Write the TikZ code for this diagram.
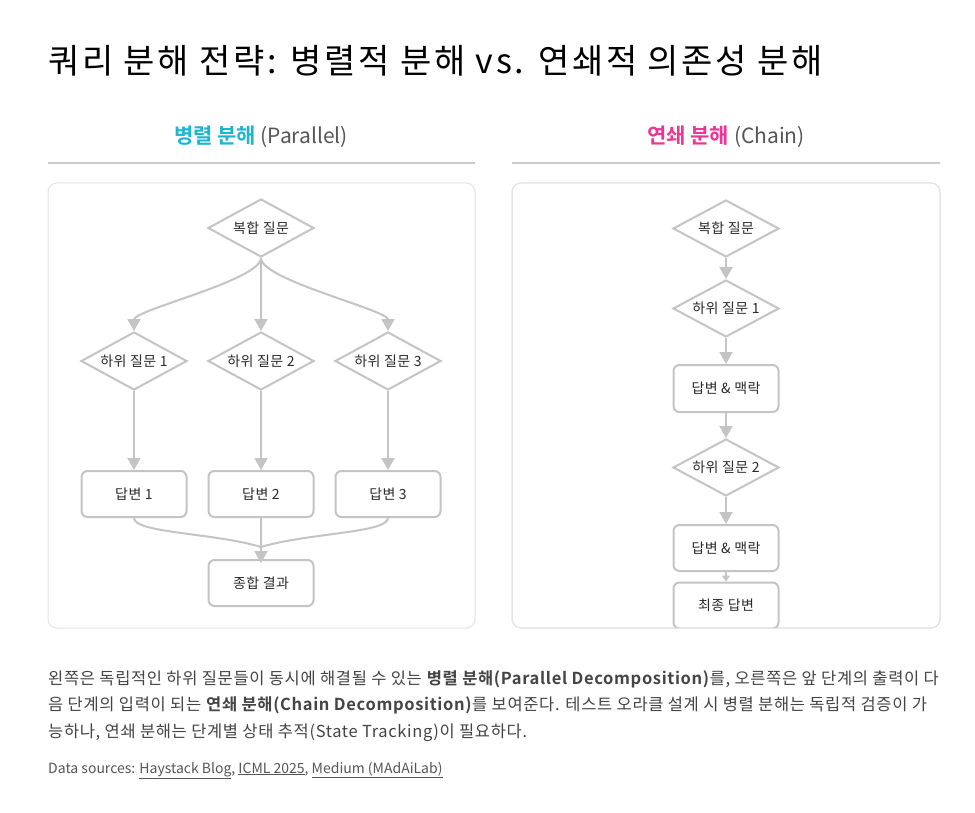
\documentclass[tikz,border=0pt]{standalone}
\usepackage{fontspec}
\setmainfont{Noto Sans CJK KR}[BoldFont={Noto Sans CJK KR Bold}]
\usetikzlibrary{shapes.geometric,arrows.meta}
\definecolor{edge}{HTML}{C4C4C4}
\definecolor{panelb}{HTML}{E3E3E3}
\definecolor{rule}{HTML}{CCCCCC}
\definecolor{txt}{HTML}{2A2A2A}
\definecolor{cap}{HTML}{444444}
\definecolor{cyanh}{HTML}{1BB5CF}
\definecolor{pinkh}{HTML}{EC3595}
\definecolor{subh}{HTML}{555555}
\newcommand{\nodefont}{\fontsize{14}{16}\selectfont\addfontfeatures{LetterSpace=3}}
\tikzset{
  qdia/.style={diamond, aspect=1.83, draw=edge, line width=2pt, fill=white, inner sep=0pt,
    minimum width=106pt, minimum height=58pt, font=\nodefont, text=txt},
  abox/.style={rectangle, rounded corners=6pt, draw=edge, line width=2pt, fill=white,
    minimum width=105pt, minimum height=46pt, font=\nodefont, text=txt},
  conn/.style={draw=edge, line width=2pt, -{Triangle[width=13pt,length=12pt]}},
  connp/.style={draw=edge, line width=2pt},
  panel/.style={draw=panelb, line width=1pt, rounded corners=9pt, fill=white},
  captxt/.style={anchor=base west, inner sep=0pt, text=cap, font=\fontsize{16.5}{19}\selectfont\addfontfeatures{LetterSpace=4}},
}
\begin{document}
\begin{tikzpicture}[x=1pt,y=-1pt]
\useasboundingbox (0,0) rectangle (975,813);
\fill[white] (0,0) rectangle (975,813);
% title
\node[anchor=base west, inner sep=0pt, text=black, font=\fontsize{34}{38}\selectfont\addfontfeatures{LetterSpace=8}] (title) at (48,74) {쿼리 분해 전략: 병렬적 분해 vs. 연쇄적 의존성 분해};
% headers
\node[font=\fontsize{21}{25}\selectfont, text=subh] (hl) at (261,137) {{\bfseries\color{cyanh}병렬 분해} (Parallel)};
\node[font=\fontsize{21}{25}\selectfont, text=subh] (hr) at (726,137) {{\bfseries\color{pinkh}연쇄 분해} (Chain)};
\draw[rule, line width=1.5pt] (48,163) -- (475,163);
\draw[rule, line width=1.5pt] (512,163) -- (940,163);
% panels
\draw[panel] (48,183) rectangle (475,628);
\draw[panel] (512,183) rectangle (940,628);

% left diagram
\node[qdia] (lq) at (261,228) {복합 질문};
\node[qdia] (s1) at (134,361) {하위 질문 1};
\node[qdia] (s2) at (261,361) {하위 질문 2};
\node[qdia] (s3) at (388,361) {하위 질문 3};
\node[abox] (a1) at (134,494) {답변 1};
\node[abox] (a2) at (261,494) {답변 2};
\node[abox] (a3) at (388,494) {답변 3};
\node[abox] (fin) at (261,583) {종합 결과};
\draw[conn] (lq.south) .. controls (261,280) and (134,310) .. (s1.north);
\draw[conn] (lq.south) -- (s2.north);
\draw[conn] (lq.south) .. controls (261,280) and (388,310) .. (s3.north);
\draw[conn] (s1.south) -- (a1.north);
\draw[conn] (s2.south) -- (a2.north);
\draw[conn] (s3.south) -- (a3.north);
\coordinate (mg) at (261,547);
\draw[connp] (a1.south) .. controls (134,533) and (215,533) .. (mg);
\draw[connp] (a3.south) .. controls (388,533) and (307,533) .. (mg);
\draw[conn] (a2.south) -- ([yshift=-4pt]fin.north);

% right diagram
\begin{scope}
\clip[rounded corners=9pt] (512,183) rectangle (940,628);
\node[qdia, minimum height=57pt] (rq) at (726,228.5) {복합 질문};
\node[qdia, minimum height=57pt] (r1) at (726,308.5) {하위 질문 1};
\node[abox, minimum height=47pt] (rb1) at (726,388.5) {답변 \& 맥락};
\node[qdia, minimum height=57pt] (r2) at (726,467.5) {하위 질문 2};
\node[abox] (rb2) at (726,548) {답변 \& 맥락};
\node[abox] (rf) at (726,605.5) {최종 답변};
\draw[conn] (rq.south) -- (r1.north);
\draw[conn] (r1.south) -- (rb1.north);
\draw[conn] (rb1.south) -- (r2.north);
\draw[conn] (r2.south) -- (rb2.north);
\draw[draw=edge, line width=2pt, -{Triangle[width=8pt,length=6pt]}] (rb2.south) -- (rf.north);
\end{scope}
\draw[draw=panelb, line width=1pt, rounded corners=9pt] (512,183) rectangle (940,628);

% caption
\node[captxt] (c1) at (48,684) {왼쪽은 독립적인 하위 질문들이 동시에 해결될 수 있는 \textbf{병렬 분해(Parallel Decomposition)}를, 오른쪽은 앞 단계의 출력이 다};
\node[captxt] (c2) at (48,710.5) {음 단계의 입력이 되는 \textbf{연쇄 분해(Chain Decomposition)}를 보여준다. 테스트 오라클 설계 시 병렬 분해는 독립적 검증이 가};
\node[captxt] (c3) at (48,737) {능하나, 연쇄 분해는 단계별 상태 추적(State Tracking)이 필요하다.};
\node[anchor=base west, inner sep=0pt, text=subh, font=\fontsize{14}{16}\selectfont] (src) at (48,773) {Data sources: \underline{Haystack Blog}, \underline{ICML 2025}, \underline{Medium (MAdAiLab)}};
\end{tikzpicture}
\end{document}
